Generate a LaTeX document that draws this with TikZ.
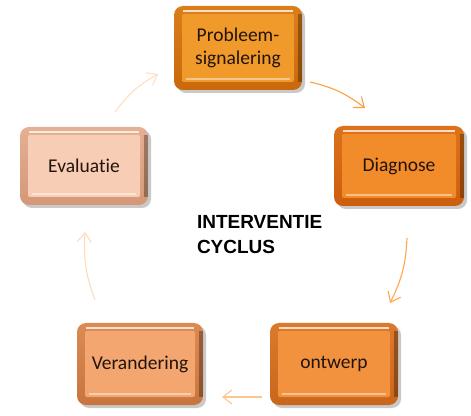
\documentclass[tikz,border=0pt]{standalone}
\usepackage{fontspec}
\setmainfont{Carlito}[Ligatures=NoCommon]
\newfontfamily\headfont{Liberation Sans}
\usetikzlibrary{arrows.meta,shadows}

\definecolor{probface}{HTML}{EF9A2A}
\definecolor{probrim}{HTML}{C9680C}
\definecolor{diagface}{HTML}{F28B2A}
\definecolor{diagrim}{HTML}{CC5E0E}
\definecolor{evalface}{HTML}{F8CDB6}
\definecolor{evalrim}{HTML}{D49878}
\definecolor{verface}{HTML}{F3A670}
\definecolor{verrim}{HTML}{C8743E}
\definecolor{ontface}{HTML}{F2923E}
\definecolor{ontrim}{HTML}{C8661C}
\definecolor{tiletext}{HTML}{22140A}

\begin{document}
\begin{tikzpicture}[x=1pt,y=1pt,inner sep=0pt,outer sep=0pt,
tile/.style n args={2}{rectangle,rounded corners=9pt,minimum width=128pt,minimum height=82pt,
  align=center,font=\fontsize{19.5}{23}\selectfont,text=tiletext,
  top color=#2!55!#1,bottom color=#2,
  drop shadow={shadow xshift=3pt,shadow yshift=-3pt,opacity=.3,fill=black!70},
  path picture={
    \fill[#1,rounded corners=2pt] ([shift={(8pt,-8pt)}]path picture bounding box.north west)
      rectangle ([shift={(-8pt,8pt)}]path picture bounding box.south east);
    \draw[white,opacity=.75,line width=1.6pt] ([shift={(9pt,-5pt)}]path picture bounding box.north west)
      -- ([shift={(-9pt,-5pt)}]path picture bounding box.north east);
    \draw[white,opacity=.45,line width=2pt] ([shift={(12pt,11pt)}]path picture bounding box.south west)
      -- ([shift={(-12pt,11pt)}]path picture bounding box.south east);
    \draw[black,opacity=.3,line width=4pt] ([shift={(-2pt,-8pt)}]path picture bounding box.north east)
      -- ([shift={(-2pt,8pt)}]path picture bounding box.south east);
  }},
flow/.style={draw=#1,line width=1.1pt,-{Straight Barb[length=9pt,width=14pt,line width=1.1pt]}}]

\useasboundingbox (0,0) rectangle (471,415);

% tiles of the cycle
\node[tile={probface}{probrim},minimum height=84pt] (prob) at (238,367) {Probleem-\\signalering};
\node[tile={diagface}{diagrim},minimum width=130pt,minimum height=80pt] (diag) at (399,249) {Diagnose};
\node[tile={evalface}{evalrim},minimum height=78pt] (eval) at (84,249) {Evaluatie};
\node[tile={verface}{verrim},minimum width=126pt] (ver) at (140,51) {Verandering};
\node[tile={ontface}{ontrim}] (ont) at (334,51) {ontwerp};

% centre title
\node[font=\headfont\bfseries\fontsize{19}{25}\selectfont,align=left,anchor=north west] (title) at (197,200) {INTERVENTIE\\CYCLUS};

% arrows round the cycle
\draw[flow=orange!75!white] ([shift={(8,8)}]prob.south east) to[bend left=12] ([shift={(31,18)}]diag.north west);
\draw[flow=orange!70!white] ([shift={(8,-32)}]diag.south) to[bend left=12] ([shift={(56,20)}]ont.north);
\draw[flow=orange!45!white] ([shift={(-8,8)}]ont.south west) -- ([shift={(19,8)}]ver.south east);
\draw[flow=orange!28!white] ([shift={(18,23)}]ver.north west) to[bend left=12] ([shift={(1,-27)}]eval.south);
\draw[flow=orange!25!white] ([shift={(-33,15)}]eval.north east) to[bend left=12] ([shift={(-16,-26)}]prob.west);
\end{tikzpicture}
\end{document}
